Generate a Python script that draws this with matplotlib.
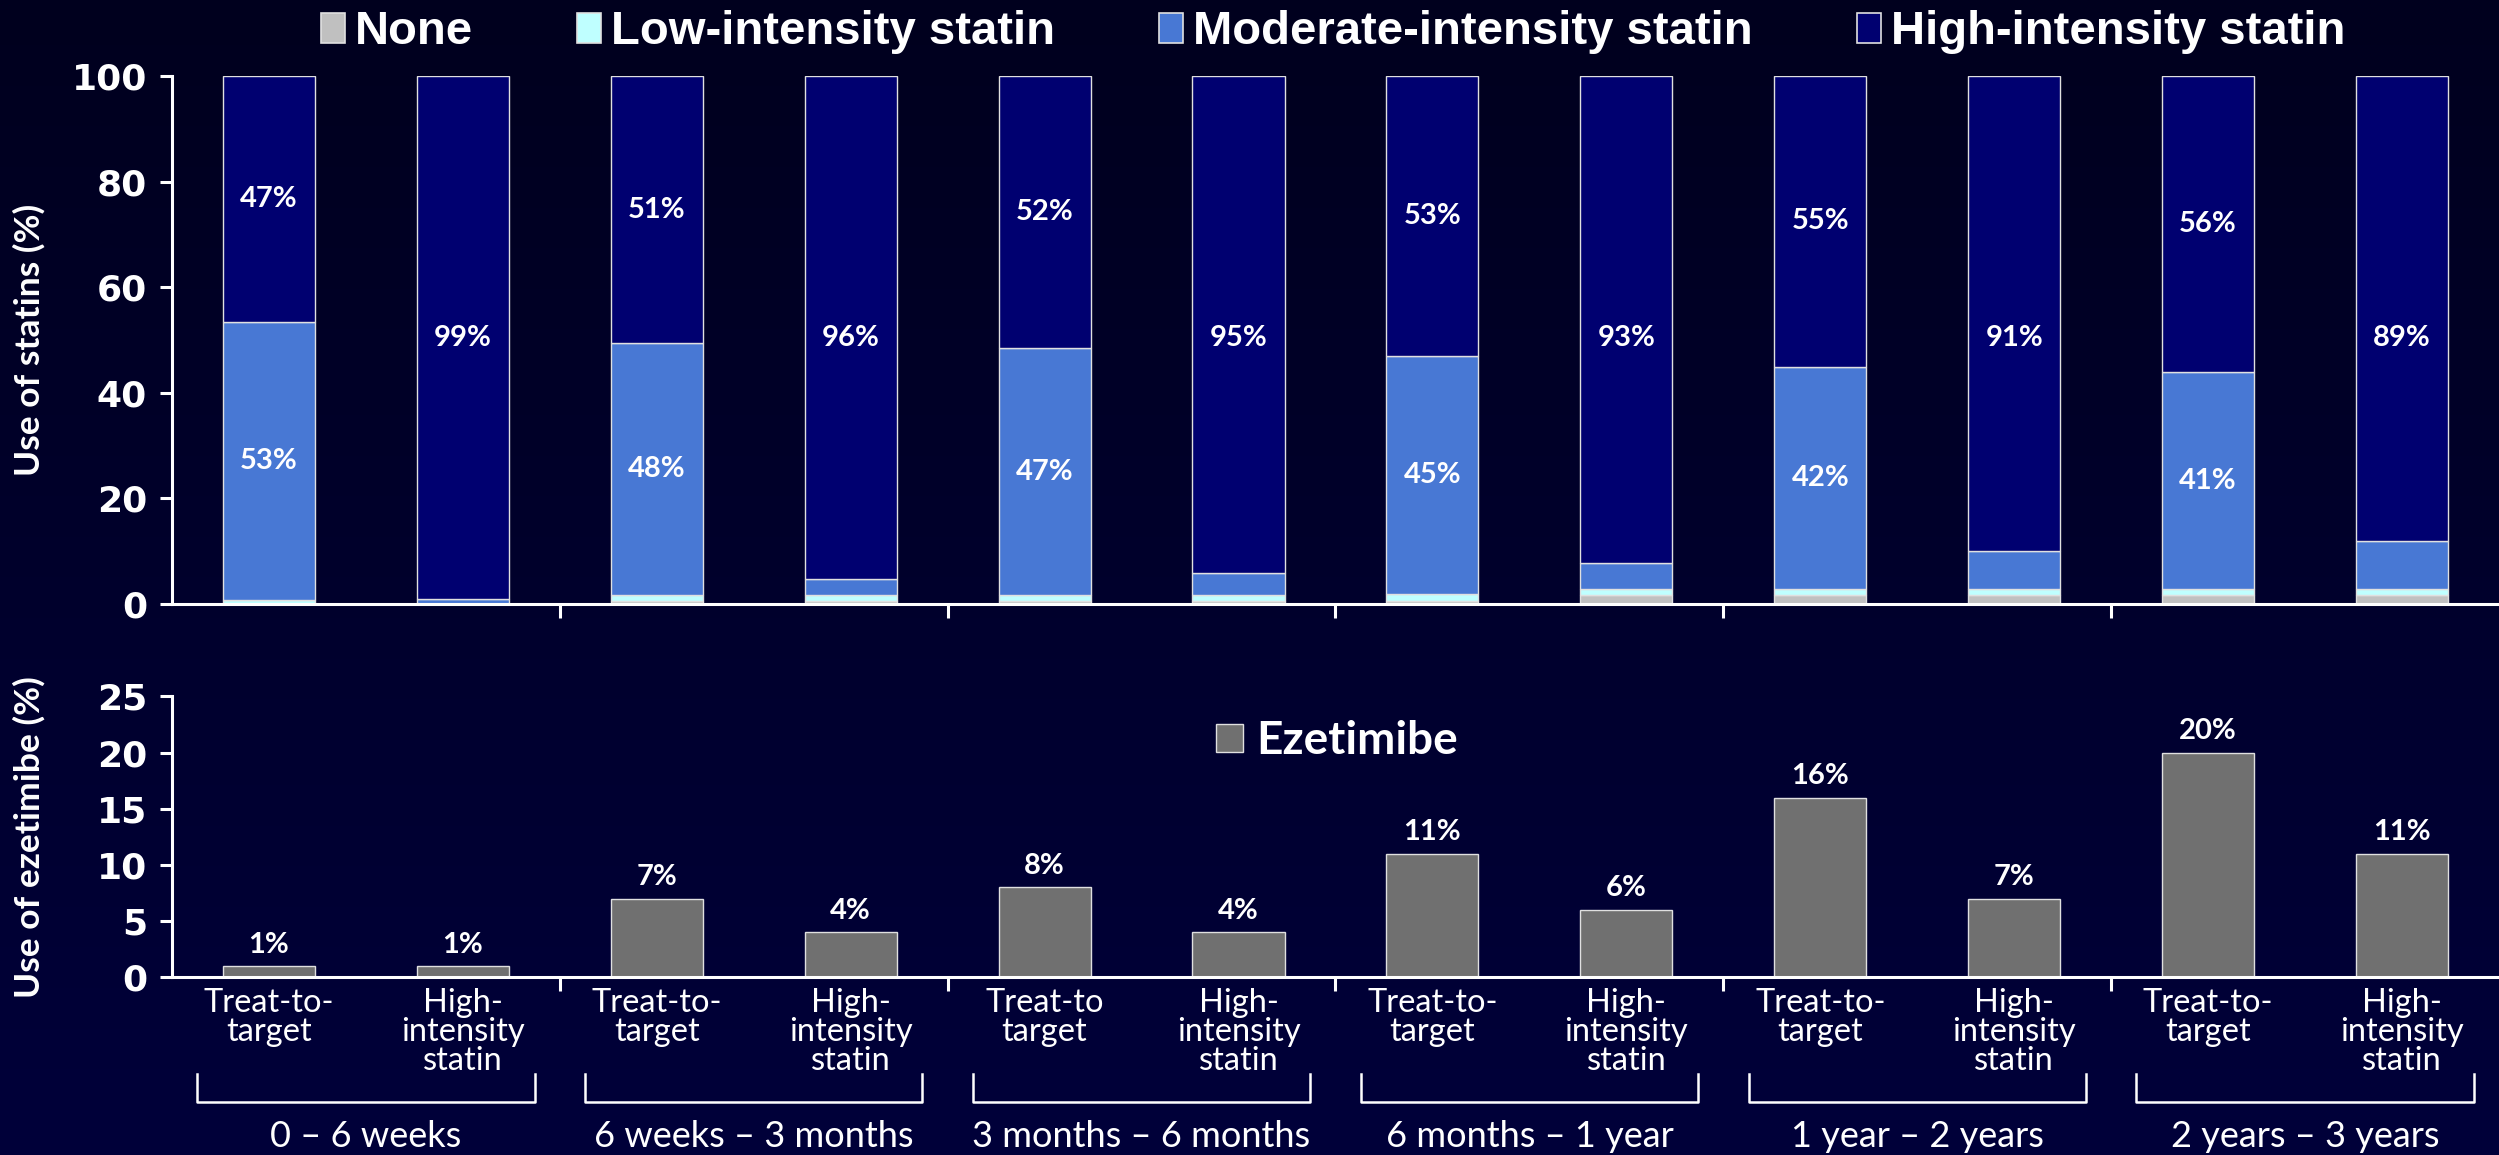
import numpy as np
import matplotlib.pyplot as plt
from matplotlib.patches import Patch
import matplotlib.transforms as mtransforms

# ---- data ----
groups = ['0 – 6 weeks', '6 weeks – 3 months', '3 months – 6 months',
          '6 months – 1 year', '1 year – 2 years', '2 years – 3 years']
arm_labels = ['Treat-to-\ntarget', 'High-\nintensity\nstatin',
              'Treat-to-\ntarget', 'High-\nintensity\nstatin',
              'Treat-to\ntarget', 'High-\nintensity\nstatin',
              'Treat-to-\ntarget', 'High-\nintensity\nstatin',
              'Treat-to-\ntarget', 'High-\nintensity\nstatin',
              'Treat-to-\ntarget', 'High-\nintensity\nstatin']

none_pct = [0, 0, 0.6, 0.6, 0.6, 0.6, 0.6, 1.7, 1.7, 1.7, 1.7, 1.7]
low_pct = [0.8, 0, 1.1, 1.1, 1.1, 1.1, 1.3, 1.1, 1.1, 1.1, 1.1, 1.1]
mod_pct = [52.7, 1.0, 47.8, 3.1, 46.8, 4.1, 45.1, 5.0, 42.2, 7.2, 41.2, 9.2]
high_pct = [46.5, 99, 50.5, 95.2, 51.5, 94.2, 53, 92.2, 55, 90, 56, 88]

mod_labels = ['53%', '', '48%', '', '47%', '', '45%', '', '42%', '', '41%', '']
high_labels = ['47%', '99%', '51%', '96%', '52%', '95%', '53%', '93%', '55%', '91%', '56%', '89%']

ezetimibe = [1, 1, 7, 4, 8, 4, 11, 6, 16, 7, 20, 11]
ezetimibe_labels = ['1%', '1%', '7%', '4%', '8%', '4%', '11%', '6%', '16%', '7%', '20%', '11%']

series_names = ['None', 'Low-intensity statin', 'Moderate-intensity statin', 'High-intensity statin']
colors = ['#c0c0c0', '#bfffff', '#4878d4', '#000070']
eze_color = '#707070'

BOLD = ['Lato', 'DejaVu Sans']
REG = ['Lato', 'DejaVu Sans']

fig = plt.figure(figsize=(24.99, 11.55), dpi=100)

# background gradient
bg = fig.add_axes([0, 0, 1, 1], zorder=-10)
grad = np.linspace(0, 1, 256).reshape(-1, 1)
top_c = np.array([0, 0, 30]) / 255
bot_c = np.array([0, 0, 58]) / 255
img = top_c + (bot_c - top_c) * grad[..., None]
bg.imshow(img, aspect='auto', extent=[0, 1, 0, 1], origin='upper')
bg.axis('off')

ax1 = fig.add_axes([0.0688, 0.477, 0.9312, 0.457])
ax2 = fig.add_axes([0.0688, 0.154, 0.9312, 0.243])

x = np.arange(len(ezetimibe))
width = 0.475

# ---- top: stacked statin bars ----
bottom = np.zeros(len(x))
for vals, col, name in zip([none_pct, low_pct, mod_pct, high_pct], colors, series_names):
    ax1.bar(x, vals, width, bottom=bottom, color=col, edgecolor='#e0e0e0',
            linewidth=1.0, label=name)
    bottom += np.array(vals)

mod_bottom = np.array(none_pct) + np.array(low_pct)
for i in x:
    if mod_labels[i]:
        ax1.text(i, mod_bottom[i] + mod_pct[i] / 2, mod_labels[i], ha='center', va='center',
                 color='white', fontsize=21, fontweight='bold', family=BOLD)
    hb = mod_bottom[i] + mod_pct[i]
    ypos = hb + high_pct[i] / 2 if i % 2 == 0 else 50.5
    ax1.text(i, ypos, high_labels[i], ha='center', va='center',
             color='white', fontsize=21, fontweight='bold', family=BOLD)

# ---- bottom: ezetimibe ----
ax2.bar(x, ezetimibe, width, color=eze_color, edgecolor='#e0e0e0', linewidth=1.0,
        label='Ezetimibe')
for i in x:
    ax2.annotate(ezetimibe_labels[i], (i, ezetimibe[i]), xytext=(0, 6),
                 textcoords='offset points', ha='center', va='bottom',
                 color='white', fontsize=21, fontweight='bold', family=BOLD)

for ax, ymax, step in [(ax1, 100, 20), (ax2, 25, 5)]:
    ax.set_facecolor('none')
    ax.set_xlim(-0.5, 11.5)
    ax.set_ylim(0, ymax)
    ax.set_yticks(np.arange(0, ymax + 1, step))
    for s in ['top', 'right']:
        ax.spines[s].set_visible(False)
    for s in ['left', 'bottom']:
        ax.spines[s].set_color('white')
        ax.spines[s].set_linewidth(2.2)
    ax.tick_params(axis='y', colors='white', length=9, width=2.2, pad=9, labelsize=26)
    for lbl in ax.get_yticklabels():
        lbl.set_fontweight('bold')
        lbl.set_family('DejaVu Sans')
    ax.set_xticks(np.arange(1.5, 10.6, 2))
    ax.set_xticklabels([])
    ax.tick_params(axis='x', which='major', colors='white', length=10, width=2.2)

ax1.set_ylabel('Use of statins (%)', color='white', fontsize=25.5, fontweight='bold',
               family=BOLD, va='center')
ax2.set_ylabel('Use of ezetimibe (%)', color='white', fontsize=25.5, fontweight='bold',
               family=BOLD, va='center')
ax1.yaxis.set_label_coords(-0.0615, 0.5)
ax2.yaxis.set_label_coords(-0.0615, 0.5)

# arm labels under the bottom panel
ax2.set_xticks(x, minor=True)
ax2.set_xticklabels(arm_labels, minor=True)
ax2.tick_params(axis='x', which='minor', length=0, pad=8, labelsize=23.5, colors='white')
for lbl in ax2.get_xticklabels(minor=True):
    lbl.set_family(REG)
    lbl.set_linespacing(0.95)

# group brackets
trans = mtransforms.blended_transform_factory(ax2.transData, ax2.transAxes)
for g, name in enumerate(groups):
    x0, x1 = 2 * g - 0.37, 2 * g + 1.37
    ax2.plot([x0, x0, x1, x1], [-0.345, -0.445, -0.445, -0.345], color='white',
             lw=1.8, transform=trans, clip_on=False)
    ax2.text(2 * g + 0.5, -0.567, name, transform=trans, ha='center', va='center',
             color='white', fontsize=26, family=REG)

# legends
handles = [Patch(facecolor=c, edgecolor='#e0e0e0', linewidth=1.2) for c in colors]
fig.legend(handles, series_names, loc='center', bbox_to_anchor=(0.5335, 0.972),
           ncol=4, frameon=False, borderpad=0, handlelength=0.51, handleheight=0.6,
           handletextpad=0.21, columnspacing=2.2, labelcolor='white',
           prop={'family': 'Liberation Sans', 'weight': 'bold', 'size': 34})
ax2.legend(loc='center left', bbox_to_anchor=(0.439, 0.84), frameon=False, borderpad=0,
           handlelength=0.57, handleheight=0.57, handletextpad=0.3, labelcolor='white',
           prop={'family': BOLD, 'weight': 'bold', 'size': 33})

fig.savefig('out.png', dpi=100)
